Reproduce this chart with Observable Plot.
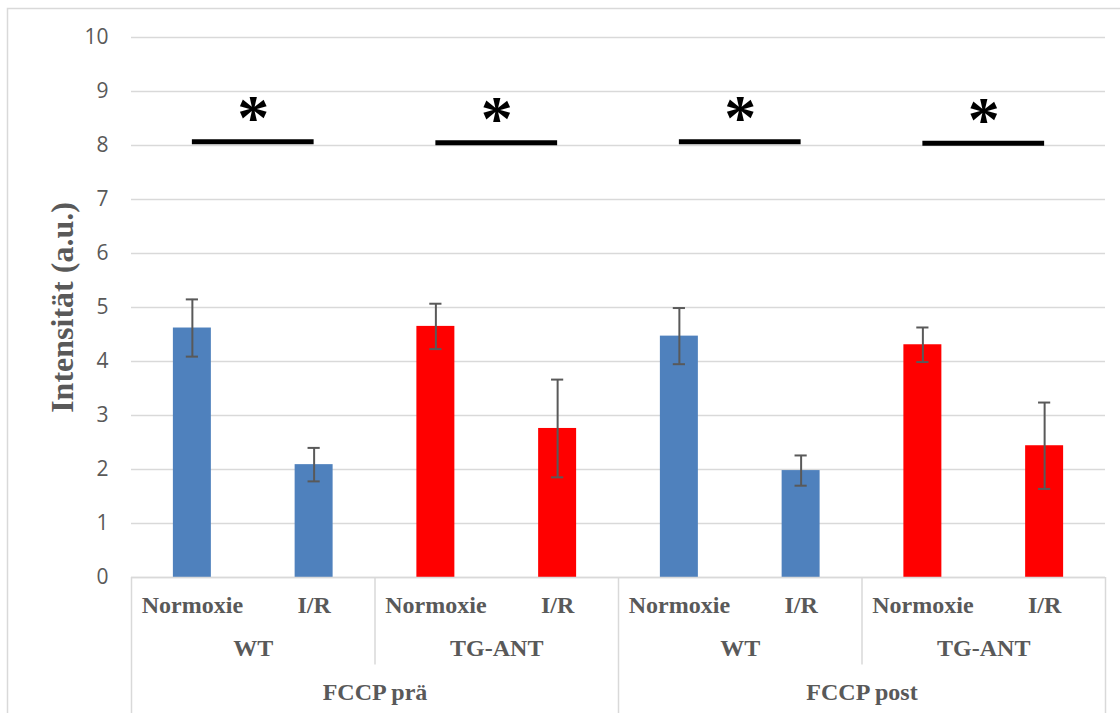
<!DOCTYPE html>
<html>
<head>
<meta charset="utf-8">
<script src="https://cdn.jsdelivr.net/npm/d3@7"></script>
<script src="https://cdn.jsdelivr.net/npm/@observablehq/plot@0.6"></script>
<style>
  html, body { margin: 0; padding: 0; background: #fff; }
  svg { display: block; }
</style>
</head>
<body>
<div id="chart"></div>
<script>
// ---- data ----
const conditions = ["Normoxie", "I/R", "Normoxie", "I/R", "Normoxie", "I/R", "Normoxie", "I/R"];
const genotypes = ["WT", "TG-ANT", "WT", "TG-ANT"];
const phases = ["FCCP prä", "FCCP post"];
const means = [4.62, 2.09, 4.65, 2.76, 4.47, 1.98, 4.31, 2.44];
const errors = [0.53, 0.31, 0.42, 0.905, 0.52, 0.28, 0.32, 0.80];
const sigLevels = [8.07, 8.05, 8.07, 8.04];
const sigMarks = ["*", "*", "*", "*"];
const yTicks = [0, 1, 2, 3, 4, 5, 6, 7, 8, 9, 10];
const genotypeColors = {"WT": "#4f81bd", "TG-ANT": "#ff0000"};
const yTitle = "Intensität (a.u.)";

// ---- tables built from the arrays ----
const bars = means.map((m, i) => ({
  i, mean: m, err: errors[i], cond: conditions[i],
  geno: genotypes[Math.floor(i / 2)], phase: phases[Math.floor(i / 4)]
}));
const groups = genotypes.map((g, k) => ({k, g, level: sigLevels[k], mark: sigMarks[k]}));
const phaseRows = phases.map((p, k) => ({k, p}));
const innerSeps = [2, 6];
const outerSeps = [0, 4, 8];

const half = 0.156;   // half bar width (slot units)
const cap = 0.05;     // half cap width (slot units)
const serif = "'Liberation Serif', 'Times New Roman', serif";
const gray = "#595959";

const chart = Plot.plot({
  width: 1120,
  height: 713,
  marginLeft: 131,
  marginRight: 15,
  marginTop: 37,
  marginBottom: 136,
  style: {background: "#fff", color: gray, fontFamily: serif},
  x: {type: "linear", domain: [0, 8], axis: null},
  y: {domain: [0, 10], axis: null},
  marks: [
    Plot.frame({stroke: "#d9d9d9", strokeWidth: 1.5, insetLeft: -124, insetTop: -29, insetRight: -25, insetBottom: -150}),
    Plot.gridY(yTicks, {stroke: "#d9d9d9", strokeOpacity: 1, strokeWidth: 1.5}),
    Plot.axisY(yTicks, {tickSize: 0, tickPadding: 23, tickFormat: d3.format("d"), fontSize: 21, fontFamily: "'Open Sans', sans-serif", fill: gray, label: null}),
    Plot.rectY(bars, {
      x1: d => d.i + 0.5 - half, x2: d => d.i + 0.5 + half,
      y1: 0, y2: "mean",
      fill: d => genotypeColors[d.geno]
    }),
    Plot.ruleX(bars, {x: d => d.i + 0.5, y1: d => d.mean - d.err, y2: d => d.mean + d.err, stroke: gray, strokeWidth: 2}),
    Plot.ruleY(bars, {x1: d => d.i + 0.5 - cap, x2: d => d.i + 0.5 + cap, y: d => d.mean + d.err, stroke: gray, strokeWidth: 2}),
    Plot.ruleY(bars, {x1: d => d.i + 0.5 - cap, x2: d => d.i + 0.5 + cap, y: d => d.mean - d.err, stroke: gray, strokeWidth: 2}),
    // category axis
    Plot.ruleY([0], {stroke: "#d9d9d9", strokeWidth: 1.5}),
    Plot.ruleX(innerSeps, {x: d => d, y1: 0, y2: -1.62, stroke: "#d9d9d9", strokeWidth: 1.5}),
    Plot.ruleX(outerSeps, {x: d => d, y1: 0, y2: -2.8, stroke: "#d9d9d9", strokeWidth: 1.5}),
    Plot.text(bars, {x: d => d.i + 0.5, y: -0.52, text: "cond", fontSize: 24, fontWeight: "bold", fill: gray, lineAnchor: "middle"}),
    Plot.text(groups, {x: d => 2 * d.k + 1, y: -1.315, text: "g", fontSize: 24, fontWeight: "bold", fill: gray, lineAnchor: "middle"}),
    Plot.text(phaseRows, {x: d => 4 * d.k + 2, y: -2.13, text: "p", fontSize: 24, fontWeight: "bold", fill: gray, lineAnchor: "middle"}),
    // significance bars
    Plot.ruleY(groups, {x1: d => 2 * d.k + 0.5, x2: d => 2 * d.k + 1.5, y: "level", stroke: "#000", strokeWidth: 5}),
    Plot.text(groups, {x: d => 2 * d.k + 1, y: "level", text: "mark", fontSize: 64, fontWeight: "bold", fill: "#000", lineAnchor: "top", dy: -48}),
    // y title
    Plot.text([yTitle], {frameAnchor: "left", textAnchor: "middle", rotate: -90, dx: -69, fontSize: 32, fontWeight: "bold", fill: gray, lineAnchor: "middle"})
  ]
});
document.getElementById("chart").appendChild(chart);
</script>
</body>
</html>
